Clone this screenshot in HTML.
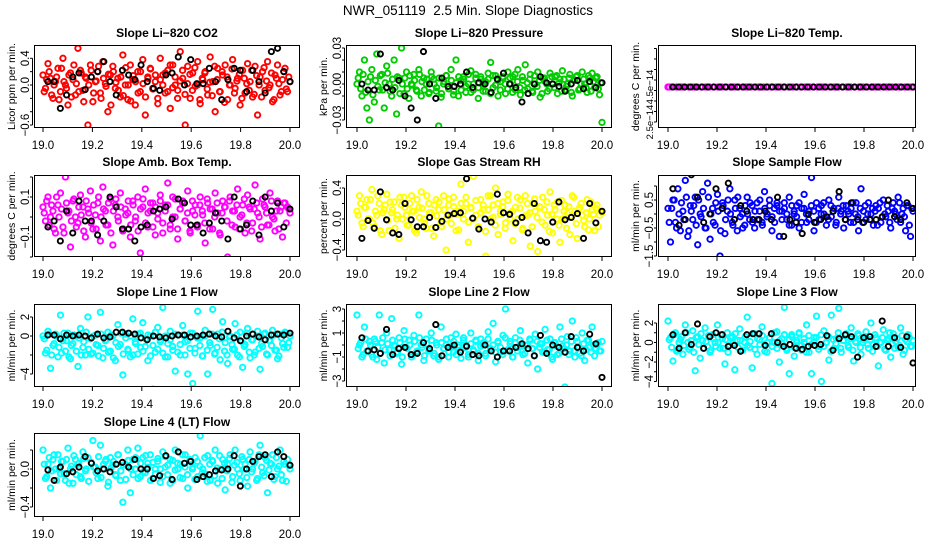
<!DOCTYPE html>
<html><head><meta charset="utf-8"><style>
html,body{margin:0;padding:0;background:#fff;}
svg{display:block;font-family:"Liberation Sans",Arial,sans-serif;}
</style></head>
<body>
<svg id="chart" width="936" height="540" viewBox="0 0 936 540" xmlns="http://www.w3.org/2000/svg">
<rect width="936" height="540" fill="#fff"/>
<text x="468" y="15" text-anchor="middle" font-size="13.5">NWR_051119&#160; 2.5 Min. Slope Diagnostics</text>
</svg>
<script>
const xTicks = [19.0, 19.2, 19.4, 19.6, 19.8, 20.0];
const xTickLabels = ["19.0","19.2","19.4","19.6","19.8","20.0"];

const co2Vals = [0.15,-0.05,0.32,0.1,-0.2,0.05,0.25,-0.1,0.4,0.0,-0.3,0.18,0.08,-0.15,0.55,0.22,-0.08,0.12,-0.6,0.3,-0.25,0.05,0.2,-0.12,0.35,0.02,-0.4,0.15,0.28,-0.05,0.1,-0.18,0.45,0.0,-0.22,0.3,0.08,-0.3,0.2,-0.1,0.38,-0.45,0.12,0.25,-0.05,0.05,-0.2,0.4,0.15,-0.12,0.22,-0.35,0.3,0.0,-0.08,0.5,0.1,-0.6,0.28,-0.2,0.18,-0.02,0.35,-0.28,0.08,0.2,-0.15,0.42,0.05,-0.4,0.25,-0.1,0.15,0.3,-0.22,0.0,0.38,-0.05,0.1,-0.3,0.22,-0.12,0.32,0.05,-0.18,0.28,-0.45,0.12,0.2,-0.08,0.35,0.0,-0.25,0.15,0.3,-0.15,0.08,0.25,-0.1,0.05];
const co2Vals2 = [-0.1,0.08,0.2,-0.15,0.0,0.12,-0.22,0.25,0.05,-0.05,0.15,-0.18,0.3,0.02,-0.1,0.18,-0.25,0.1,0.0,0.22,-0.12,0.06,0.28,-0.2,0.1,-0.02,0.16,-0.3,0.2,0.04,-0.08,0.12,-0.16,0.26,0.0,-0.24,0.14,0.05,-0.12,0.2,0.02,-0.18,0.1,0.24,-0.06,0.15,-0.28,0.08,0.0,0.18,-0.1,0.3,-0.04,0.12,-0.2,0.06,0.22,-0.14,0.02,0.16,-0.08,0.26,0.0,-0.22,0.1,0.18,-0.06,0.04,-0.16,0.28,0.08,-0.1,0.2,-0.26,0.12,0.0,0.24,-0.12,0.06,0.16,-0.2,0.1,0.02,-0.08,0.22,-0.14,0.14,0.0,-0.18,0.26,0.06,-0.04,0.18,-0.22,0.1,0.02,-0.1,0.2,-0.06,0.12];
const co2Black = [0.05,0.05,-0.35,-0.15,0.12,0.18,-0.07,0.12,0.2,0.35,0.05,-0.15,0.22,0.15,0.08,0.3,0.05,-0.05,-0.08,0.15,0.18,0.42,0.0,0.38,0.02,0.02,0.25,0.05,-0.22,0.08,0.25,0.22,-0.1,0.22,0.05,-0.12,0.5,0.55,0.2,0.05];

const presVals = [0.0,0.01,-0.01,0.02,-0.02,-0.03,0.012,-0.015,0.025,-0.005,0.008,-0.02,0.015,0.0,-0.01,0.02,-0.025,0.005,0.03,-0.008,0.01,-0.012,0.0,0.008,-0.005,0.012,-0.01,0.005,0.0,-0.008,0.01,0.004,-0.006,-0.035,-0.011,0.0,0.007,-0.004,0.012,-0.009,0.02,-0.01,0.003,0.006,-0.007,0.0,0.011,-0.005,0.008,-0.012,0.004,0.0,-0.006,0.009,0.018,-0.003,0.007,-0.01,0.002,0.005,-0.008,0.01,0.0,0.006,-0.005,0.012,-0.009,0.003,0.016,-0.004,0.008,-0.007,0.0,0.01,-0.011,0.005,0.002,-0.006,0.009,0.0,0.006,-0.008,0.004,0.011,-0.005,0.0,0.008,-0.01,0.003,0.007,-0.004,0.01,0.0,-0.007,0.005,0.009,-0.003,0.006,-0.009,-0.032];
const presVals2 = [0.005,-0.004,0.008,-0.007,0.002,0.006,-0.009,0.003,-0.002,0.007,-0.005,0.001,0.009,-0.006,0.004,-0.003,0.006,-0.008,0.0,0.005,-0.004,0.007,-0.001,0.003,-0.006,0.008,0.002,-0.005,0.004,-0.007,0.006,0.0,-0.003,0.005,-0.008,0.002,0.007,-0.004,0.003,-0.006,0.001,0.006,-0.005,0.004,-0.002,0.008,-0.007,0.0,0.005,-0.003,0.006,-0.006,0.002,0.004,-0.008,0.007,-0.001,0.003,-0.005,0.006,0.0,-0.004,0.005,-0.007,0.008,0.002,-0.003,0.006,-0.005,0.001,0.004,-0.006,0.007,-0.002,0.003,-0.008,0.005,0.0,-0.004,0.006,-0.003,0.007,0.001,-0.006,0.004,-0.002,0.005,-0.007,0.003,0.006,-0.005,0.0,0.004,-0.003,0.007,-0.006,0.002,0.005,-0.004,0.001];
const presBlack = [0.0,-0.005,-0.005,0.025,-0.003,-0.005,0.003,-0.01,-0.02,-0.03,0.027,0.0,-0.012,0.005,-0.002,-0.002,0.0,0.01,-0.003,0.001,0.0,-0.007,0.004,0.009,0.0,-0.003,-0.015,-0.008,0.0,0.006,0.001,0.0,-0.002,-0.006,0.0,0.003,-0.004,0.002,-0.003,0.001];

const tempVals = [4.5e-14,4.5e-14,4.5e-14,4.5e-14,4.5e-14,4.5e-14,4.5e-14,4.5e-14,4.5e-14,4.5e-14,4.5e-14,4.5e-14,4.5e-14,4.5e-14,4.5e-14,4.5e-14,4.5e-14,4.5e-14,4.5e-14,4.5e-14,4.5e-14,4.5e-14,4.5e-14,4.5e-14,4.5e-14,4.5e-14,4.5e-14,4.5e-14,4.5e-14,4.5e-14,4.5e-14,4.5e-14,4.5e-14,4.5e-14,4.5e-14,4.5e-14,4.5e-14,4.5e-14,4.5e-14,4.5e-14,4.5e-14,4.5e-14,4.5e-14,4.5e-14,4.5e-14,4.5e-14,4.5e-14,4.5e-14,4.5e-14,4.5e-14,4.5e-14,4.5e-14,4.5e-14,4.5e-14,4.5e-14,4.5e-14,4.5e-14,4.5e-14,4.5e-14,4.5e-14];
const tempVals2 = [4.5e-14,4.5e-14,4.5e-14,4.5e-14,4.5e-14,4.5e-14,4.5e-14,4.5e-14,4.5e-14,4.5e-14,4.5e-14,4.5e-14,4.5e-14,4.5e-14,4.5e-14,4.5e-14,4.5e-14,4.5e-14,4.5e-14,4.5e-14];
const tempBlack = [4.5e-14,4.5e-14,4.5e-14,4.5e-14,4.5e-14,4.5e-14,4.5e-14,4.5e-14,4.5e-14,4.5e-14,4.5e-14,4.5e-14,4.5e-14,4.5e-14,4.5e-14,4.5e-14,4.5e-14,4.5e-14,4.5e-14,4.5e-14,4.5e-14,4.5e-14,4.5e-14,4.5e-14,4.5e-14,4.5e-14,4.5e-14,4.5e-14,4.5e-14,4.5e-14,4.5e-14,4.5e-14,4.5e-14,4.5e-14,4.5e-14,4.5e-14,4.5e-14,4.5e-14,4.5e-14,4.5e-14,4.5e-14,4.5e-14];

const ambVals = [0.05,-0.02,0.1,0.0,0.03,-0.08,0.06,0.12,-0.05,0.2,0.02,-0.15,0.08,0.0,-0.03,0.11,0.05,-0.1,0.04,0.13,-0.06,0.01,0.07,-0.12,0.15,0.03,-0.04,0.09,-0.14,0.06,0.0,0.12,-0.07,0.04,0.02,-0.1,0.08,-0.02,0.1,-0.18,0.05,0.14,-0.05,0.03,0.07,-0.09,0.02,0.11,-0.03,0.06,0.17,-0.06,0.0,0.09,-0.11,0.04,0.08,-0.02,0.13,-0.08,0.03,0.06,-0.04,0.1,0.01,-0.13,0.07,0.04,-0.06,0.12,0.02,-0.09,0.08,0.05,-0.2,0.1,0.03,-0.05,0.14,0.0,0.06,-0.08,0.11,0.04,-0.03,0.16,0.02,-0.11,0.09,0.05,-0.04,0.12,0.0,-0.07,0.08,0.03,-0.1,0.07,0.05,0.02];
const ambVals2 = [0.02,0.08,-0.04,0.06,-0.06,0.1,0.0,0.04,-0.08,0.07,0.03,-0.02,0.09,-0.05,0.05,0.01,-0.07,0.08,0.02,-0.03,0.06,-0.06,0.1,0.0,0.04,-0.04,0.07,-0.08,0.03,0.09,-0.02,0.05,-0.06,0.01,0.08,-0.04,0.06,0.0,-0.07,0.04,0.09,-0.03,0.02,0.07,-0.05,0.05,-0.01,0.08,-0.08,0.03,0.06,-0.04,0.1,0.0,-0.06,0.04,0.07,-0.02,0.02,-0.07,0.08,0.01,-0.05,0.06,0.03,-0.03,0.09,-0.06,0.04,0.0,0.07,-0.08,0.02,0.05,-0.02,0.08,-0.04,0.03,0.06,-0.06,0.01,0.09,-0.03,0.05,-0.07,0.04,0.07,0.0,-0.05,0.06,0.02,-0.04,0.08,-0.01,0.03,-0.06,0.05,0.07,-0.03,0.04];
const ambBlack = [-0.05,-0.02,-0.12,0.03,-0.08,0.08,-0.02,-0.02,-0.09,-0.02,0.1,0.05,-0.06,-0.06,-0.12,-0.05,-0.04,0.03,0.04,0.05,-0.01,0.09,0.07,-0.04,-0.04,-0.08,-0.03,0.02,-0.02,-0.11,0.1,-0.06,-0.04,0.08,-0.09,0.1,0.03,0.07,-0.05,0.04];

const rhVals = [0.1,0.3,-0.05,0.15,0.25,0.0,0.38,-0.1,0.05,0.2,-0.2,0.12,0.32,-0.15,0.08,0.22,0.0,-0.25,0.18,0.28,0.05,-0.08,0.3,0.1,-0.18,0.15,0.35,0.0,-0.12,0.2,0.08,-0.22,0.25,0.12,-0.05,0.3,-0.4,0.18,0.05,0.28,-0.15,0.1,0.45,0.0,0.2,-0.3,0.15,0.55,0.05,-0.1,0.25,0.12,-0.48,0.3,0.0,0.18,0.4,-0.2,0.1,0.22,-0.05,0.32,0.08,-0.28,0.15,0.0,0.25,-0.12,0.3,0.05,-0.35,0.2,0.1,-0.42,0.15,0.28,-0.08,0.05,0.35,-0.18,0.12,0.22,-0.3,0.0,0.18,0.08,-0.2,0.3,0.1,-0.25,0.15,0.05,-0.1,0.25,0.0,0.12,-0.15,0.18,0.05,0.08];
const rhVals2 = [0.05,0.2,-0.1,0.15,0.0,0.25,-0.05,0.1,0.3,-0.15,0.08,0.18,-0.02,0.22,0.12,-0.12,0.05,0.28,0.0,0.15,-0.08,0.2,0.1,-0.15,0.25,0.02,0.14,-0.05,0.3,0.08,-0.12,0.18,0.04,0.22,-0.1,0.12,0.0,0.26,-0.06,0.16,0.06,-0.14,0.2,0.1,0.28,-0.04,0.14,0.0,0.24,-0.1,0.08,0.18,-0.16,0.12,0.3,0.02,-0.08,0.2,0.06,0.16,-0.12,0.24,0.0,0.1,-0.06,0.28,0.14,-0.14,0.04,0.2,0.08,-0.1,0.26,0.02,0.16,-0.04,0.12,0.22,-0.16,0.06,0.18,0.0,-0.08,0.24,0.1,-0.12,0.16,0.04,0.28,-0.06,0.12,0.2,-0.02,0.08,-0.14,0.22,0.06,0.14,-0.1,0.1];
const rhBlack = [-0.25,-0.02,-0.12,0.35,-0.01,-0.18,-0.2,0.2,-0.01,-0.1,-0.1,0.02,-0.11,-0.03,0.05,0.07,0.08,0.52,0.01,-0.13,0.0,-0.04,0.32,0.08,0.06,-0.05,0.02,-0.18,0.2,-0.28,-0.3,-0.04,0.22,-0.01,0.02,0.07,-0.25,0.2,-0.05,0.1];

const sampVals = [0.2,-1.0,0.5,-0.3,0.9,-0.6,0.1,1.2,-0.8,0.3,-0.2,0.6,-1.1,0.0,0.8,-0.5,1.1,-0.9,0.2,-0.4,0.7,-1.5,0.4,-0.7,0.1,0.9,-0.3,0.5,-0.6,0.2,0.0,-0.4,0.6,-0.2,0.3,-0.5,0.4,0.1,-0.3,0.8,-0.1,0.5,-0.6,0.2,0.3,-0.8,0.1,0.4,-0.2,0.6,-0.4,0.0,0.3,-0.5,0.2,0.7,-0.3,0.1,1.3,-0.6,0.4,-0.2,0.3,0.0,-0.4,0.5,-0.1,0.2,-0.3,0.6,0.1,-0.5,0.3,0.0,0.2,-0.3,0.4,-0.6,0.9,0.1,-0.2,0.4,0.0,-0.4,0.3,0.2,-0.3,0.5,-0.1,0.1,-0.5,0.4,0.0,0.6,-0.3,0.2,-0.6,0.3,-0.8,0.1];
const sampVals2 = [-0.3,0.2,0.5,-0.5,0.0,0.4,-0.2,0.6,-0.6,0.1,0.3,-0.4,0.5,-0.1,0.2,-0.5,0.6,0.0,-0.3,0.4,0.1,-0.6,0.3,-0.2,0.5,0.0,-0.4,0.2,0.6,-0.1,-0.5,0.3,0.0,0.4,-0.3,0.1,-0.2,0.5,-0.4,0.2,0.0,0.3,-0.1,-0.3,0.4,0.1,-0.2,0.2,0.0,-0.4,0.3,0.1,-0.1,0.4,-0.3,0.2,0.0,-0.2,0.3,0.1,-0.3,0.2,0.0,0.4,-0.1,-0.2,0.3,0.1,-0.4,0.2,0.0,0.3,-0.2,0.1,-0.3,0.4,0.0,-0.1,0.2,-0.3,0.3,0.0,-0.2,0.2,0.1,-0.4,0.4,-0.1,0.0,0.3,-0.3,0.2,0.1,-0.2,0.4,0.0,-0.1,0.3,-0.4,0.2];
const sampBlack = [0.9,-0.4,-0.2,1.4,0.6,-0.3,0.0,0.9,0.2,1.1,-0.2,0.3,0.1,-0.2,-0.2,0.1,-0.2,0.6,-0.8,-0.2,-0.3,-0.7,0.0,-0.3,-0.2,-0.1,0.1,0.8,-0.2,0.4,-0.2,-0.3,-0.2,-0.2,-0.1,0.5,-0.1,-0.2,0.4,0.2];

const l1Vals = [0.0,-1.8,0.5,-3.4,-1.0,0.2,-2.2,2.2,-0.5,-1.6,0.3,-2.4,-0.8,0.0,-3.2,0.8,-1.2,-2.0,2.0,-0.3,-1.8,0.1,-1.0,2.5,-2.3,-0.5,0.4,-1.6,0.0,-2.6,1.2,-0.9,-4.1,0.2,-1.4,-2.2,1.8,-0.6,-1.9,0.3,1.4,-1.1,-2.6,0.0,-5.6,-1.7,0.9,-0.4,3.0,-2.2,-0.8,0.5,-1.5,-3.7,0.1,-2.0,1.1,-0.6,-4.0,0.3,-5.0,-1.3,2.6,-0.2,-2.1,0.6,-4.0,-1.0,2.8,-1.8,0.2,-2.5,1.5,-0.7,-2.9,0.0,-1.4,1.3,-2.0,0.4,-3.3,-0.9,0.8,-2.3,-0.4,-1.7,0.5,-3.5,-1.1,0.3,-2.0,-0.5,0.6,-1.5,-2.4,0.2,-0.8,0.4,-1.2,0.0];
const l1Vals2 = [-0.3,-1.5,0.2,-2.0,-0.8,0.0,-1.2,-1.8,0.3,-0.5,-2.2,-1.0,0.1,-1.6,-0.2,-2.0,-0.6,0.4,-1.4,-1.9,0.0,-0.9,-2.1,0.2,-1.3,-0.4,-1.7,0.1,-2.3,-0.7,-1.1,0.3,-1.9,-0.2,-1.5,0.0,-2.0,-0.8,0.2,-1.2,-1.6,-0.3,0.1,-2.1,-1.0,0.4,-1.4,-0.6,-1.8,0.0,-2.2,-0.4,-1.1,0.2,-1.7,-0.9,0.1,-2.0,-0.5,-1.3,0.3,-1.8,-0.2,-1.0,-2.1,0.0,-1.5,-0.7,0.2,-1.9,-1.2,-0.3,0.4,-1.6,-2.0,-0.1,-0.9,-1.4,0.1,-2.2,-0.6,-1.1,0.3,-1.7,-0.4,-2.0,0.0,-1.3,-0.8,0.2,-1.9,-0.5,-1.0,0.1,-1.5,-2.1,-0.2,-1.2,0.3,-0.7];
const l1Black = [0.1,0.1,-0.3,0.1,0.0,0.1,0.0,-0.2,0.2,-0.2,-0.1,0.4,0.4,0.3,0.2,-0.2,-0.4,0.0,-0.1,-0.2,0.0,0.1,0.1,-0.1,0.0,0.1,0.2,0.0,-0.1,0.5,-0.2,-0.5,0.0,0.2,-0.1,-0.4,0.1,0.2,0.1,0.3];

const l2Vals = [2.5,0.0,-1.0,1.5,-0.5,0.3,-0.8,0.5,-1.2,2.5,0.2,-1.5,1.0,-0.4,2.2,0.0,-0.7,0.6,-1.6,1.2,-0.2,0.4,-1.0,0.8,-0.6,2.5,0.0,-1.3,0.5,-0.5,1.0,-0.9,0.2,-1.2,1.5,-0.3,0.0,-1.0,0.6,-0.6,0.9,-0.2,-1.1,0.4,0.0,-0.8,1.0,-0.4,0.3,-1.3,0.5,0.0,-0.7,1.1,-0.3,1.8,-1.4,0.2,-0.6,0.8,3.0,-0.5,0.3,-1.0,0.6,-0.2,1.2,-0.8,0.0,-1.5,0.4,-0.3,0.9,-2.0,0.1,-0.6,1.3,-0.4,0.5,-1.2,0.2,-0.8,1.5,-0.1,-3.5,0.7,-0.5,2.0,-1.0,0.3,-0.7,1.0,-1.3,0.4,-0.2,1.5,-0.9,0.0,-0.5,0.3];
const l2Vals2 = [-0.3,0.2,-0.8,0.5,-0.5,0.0,-1.0,0.3,-0.2,-0.7,0.6,-0.4,0.1,-0.9,0.4,-0.1,-0.6,0.2,-1.0,0.5,-0.3,0.0,-0.8,0.3,-0.5,0.6,-0.2,-0.9,0.1,-0.4,0.4,-0.7,0.0,-1.0,0.2,-0.3,0.5,-0.6,-0.1,0.3,-0.8,0.0,-0.4,0.6,-0.2,-1.0,0.1,-0.5,0.4,-0.7,-0.1,0.2,-0.9,0.5,-0.3,0.0,-0.6,0.3,-0.2,-0.8,0.6,-0.4,0.1,-1.0,0.2,-0.5,0.4,-0.1,-0.7,0.0,0.5,-0.3,-0.9,0.3,-0.2,0.1,-0.6,0.4,-0.4,-1.0,0.2,-0.1,-0.7,0.5,-0.3,0.0,-0.8,0.3,-0.5,0.6,-0.2,-0.9,0.1,-0.4,0.4,-0.6,0.0,-0.3,0.2,-0.5];
const l2Black = [0.6,-0.5,-0.4,-0.7,1.3,-0.8,-0.3,-0.2,-0.8,-0.7,0.2,-0.3,1.7,-0.9,-0.2,0.0,-0.6,-0.1,-0.8,-0.9,0.0,-0.5,-1.0,-0.5,-0.5,-0.2,0.1,-0.3,-0.9,0.8,-0.7,0.0,-0.2,-0.6,0.7,-0.2,-0.5,0.9,0.1,-2.7];

const l3Vals = [2.2,0.5,-1.9,1.0,-0.8,0.3,-1.2,1.8,0.0,-0.5,1.2,-2.9,0.6,-1.6,0.2,1.5,-0.4,-1.0,0.8,0.0,1.8,-0.6,0.4,-2.2,1.0,-0.3,0.6,-2.8,0.2,1.4,-0.8,0.0,2.6,-0.5,-2.6,0.9,-1.2,0.3,1.6,-0.2,-1.0,0.5,-4.2,0.0,1.1,-2.0,0.4,3.6,-0.6,-3.2,0.8,-1.4,0.2,1.0,-0.8,0.0,1.8,-1.0,-3.2,0.5,2.7,-0.4,-4.0,1.2,0.0,-1.8,2.8,-0.6,0.4,3.5,-1.0,0.2,0.9,-0.5,1.5,-1.9,0.0,0.7,-1.2,0.3,1.1,-0.6,2.0,-0.2,0.5,-2.4,0.0,1.3,-0.8,0.4,-1.5,0.9,0.1,-0.5,1.5,-1.2,0.3,0.8,-0.4,0.2];
const l3Vals2 = [0.3,-0.5,0.8,-0.9,0.0,0.6,-0.3,1.0,-0.7,0.2,-1.0,0.5,-0.2,0.9,-0.6,0.1,0.7,-0.8,0.4,-0.4,0.0,0.8,-0.6,0.3,-1.0,0.5,-0.1,0.9,-0.5,0.2,-0.8,0.6,-0.3,0.1,0.9,-0.7,0.4,-0.2,0.7,-0.9,0.0,0.5,-0.4,1.0,-0.6,0.2,-0.1,0.8,-0.8,0.3,0.6,-0.5,0.0,0.9,-0.3,0.4,-1.0,0.7,-0.2,0.1,0.5,-0.7,0.8,-0.4,0.0,0.6,-0.9,0.3,-0.1,1.0,-0.6,0.2,0.7,-0.3,0.4,-0.8,0.1,0.9,-0.5,0.0,0.6,-0.2,0.3,-0.9,0.8,-0.4,0.0,0.5,-0.7,0.2,1.0,-0.1,-0.6,0.4,-0.3,0.7,-0.8,0.1,0.5,-0.4];
const l3Black = [0.8,-0.6,1.0,-0.2,1.9,-0.6,0.6,1.0,0.8,-0.4,-0.3,-0.9,0.8,0.9,0.9,-0.3,0.9,0.0,-0.4,-0.2,-0.6,-0.7,-0.4,-0.3,-0.2,0.7,-0.8,0.4,0.8,0.6,-1.5,0.5,0.6,-0.4,2.2,-0.4,0.5,-0.5,0.6,-2.1];

const l4Vals = [0.2,-0.1,0.05,-0.2,0.1,0.0,0.15,-0.05,0.08,-0.12,0.22,0.0,-0.15,0.1,0.05,-0.08,0.18,-0.02,0.12,-0.55,0.3,0.02,-0.1,0.25,0.0,0.08,-0.18,0.12,0.04,-0.06,0.15,-0.12,-0.35,0.05,0.2,-0.25,0.1,0.0,0.22,-0.08,0.12,-0.04,0.06,0.15,-0.1,0.0,0.08,-0.14,0.18,0.02,-0.06,0.1,-0.12,0.2,0.0,0.05,-0.1,0.15,-0.2,0.08,0.02,0.12,-0.08,0.35,0.0,-0.05,0.14,-0.12,0.08,0.2,-0.15,0.0,0.1,-0.22,0.05,0.15,-0.08,0.2,0.0,-0.12,0.1,0.05,-0.18,0.18,0.0,0.08,-0.1,0.25,-0.04,0.12,-0.25,0.06,0.15,-0.08,0.0,0.2,-0.12,0.05,0.1,0.0];
const l4Vals2 = [0.05,-0.08,0.12,-0.02,0.15,-0.12,0.0,0.08,-0.05,0.1,-0.15,0.03,0.14,-0.06,0.06,-0.1,0.11,0.0,-0.13,0.07,0.02,-0.04,0.13,-0.09,0.05,0.1,-0.14,0.01,0.08,-0.07,0.15,-0.02,0.04,-0.11,0.09,0.0,-0.06,0.12,-0.1,0.06,-0.03,0.14,0.02,-0.12,0.07,-0.05,0.11,0.0,-0.08,0.13,0.04,-0.15,0.09,-0.01,0.06,-0.09,0.15,0.02,-0.06,0.1,0.0,-0.11,0.08,0.03,-0.04,0.12,-0.13,0.05,0.09,-0.07,0.01,0.14,-0.1,0.06,-0.02,0.11,-0.14,0.04,0.07,-0.05,0.13,0.0,-0.09,0.1,-0.03,0.06,-0.12,0.15,0.02,-0.07,0.09,-0.01,0.05,-0.11,0.12,0.03,-0.06,0.08,-0.13,0.04];
const l4Black = [-0.01,-0.12,0.02,-0.05,-0.03,0.02,0.13,0.06,-0.02,0.0,-0.03,0.05,0.07,0.02,0.1,0.0,0.0,-0.1,-0.07,0.14,-0.11,0.18,0.06,0.08,-0.11,-0.08,-0.06,-0.02,-0.01,0.0,0.14,-0.18,0.0,0.08,0.13,0.15,-0.08,0.18,0.13,0.04];

const NS = "http://www.w3.org/2000/svg";
const svg = document.getElementById("chart");
function mk(tag, attrs, parent, txt) {
  const e = document.createElementNS(NS, tag);
  for (const k in attrs) e.setAttribute(k, attrs[k]);
  if (txt !== undefined) e.textContent = txt;
  (parent || svg).appendChild(e);
  return e;
}
const cols = [{bx0:34,bx1:300,xa:43,xb:290},{bx0:346,bx1:612,xa:357,xb:602},{bx0:658,bx1:916,xa:668,xb:913}];
const rows = [{by0:45,by1:128,title:33},{by0:175,by1:257,title:162},{by0:304,by1:387,title:292},{by0:433,by1:517,title:422}];

const panels = [
 {key:"co2",title:"Slope Li\u2212820 CO2",ylab:"Licor ppm per min.",c:0,r:0,color:"#ff0000",vals:co2Vals,vals2:co2Vals2,blk:co2Black,v0:0,p0:85,v1:0.4,p1:58.3,ticks:[-0.6,-0.4,-0.2,0,0.2,0.4],labels:[[0.4,"0.4"],[0,"0.0"],[-0.6,"\u22120.6"]]},
 {key:"pressure",title:"Slope Li\u2212820 Pressure",ylab:"kPa per min.",c:1,r:0,color:"#00cc00",vals:presVals,vals2:presVals2,blk:presBlack,v0:0,p0:84,v1:0.03,p1:48,ticks:[-0.03,-0.02,-0.01,0,0.01,0.02,0.03],labels:[[0.03,"0.03"],[0,"0.00"],[-0.03,"\u22120.03"]]},
 {key:"temp",title:"Slope Li\u2212820 Temp.",ylab:"degrees C per min.",c:2,r:0,color:"#ff00ff",vals:tempVals,vals2:tempVals2,blk:tempBlack,v0:2.5e-14,p0:122,v1:4.5e-14,p1:87,lsize:9.5,ticks:[2.5e-14,3.1e-14,3.7e-14,4.3e-14,4.9e-14,5.5e-14,6.1e-14,6.7e-14],labels:[[4.5e-14,"4.5e\u221214"],[2.5e-14,"2.5e\u221214"]]},
 {key:"ambtemp",title:"Slope Amb. Box Temp.",ylab:"degrees C per min.",c:0,r:1,color:"#ff00ff",vals:ambVals,vals2:ambVals2,blk:ambBlack,v0:0,p0:217,v1:0.1,p1:197,ticks:[-0.2,-0.1,0,0.1,0.2],labels:[[0.1,"0.1"],[-0.1,"\u22120.1"]]},
 {key:"rh",title:"Slope Gas Stream RH",ylab:"percent per min.",c:1,r:1,color:"#ffff00",vals:rhVals,vals2:rhVals2,blk:rhBlack,v0:0,p0:219,v1:0.4,p1:188,ticks:[-0.4,-0.2,0,0.2,0.4],labels:[[0.4,"0.4"],[0,"0.0"],[-0.4,"\u22120.4"]]},
 {key:"sampleflow",title:"Slope Sample Flow",ylab:"ml/min per min.",c:2,r:1,color:"#0000ff",vals:sampVals,vals2:sampVals2,blk:sampBlack,v0:0,p0:214,v1:0.5,p1:200,ticks:[-1.5,-1,-0.5,0,0.5,1],labels:[[0.5,"0.5"],[-0.5,"\u22120.5"],[-1.5,"\u22121.5"]]},
 {key:"line1",title:"Slope Line 1 Flow",ylab:"ml/min per min.",c:0,r:2,color:"#00ffff",vals:l1Vals,vals2:l1Vals2,blk:l1Black,v0:0,p0:336,v1:2,p1:317,ticks:[-4,-2,0,2],labels:[[2,"2"],[0,"0"],[-4,"\u22124"]]},
 {key:"line2",title:"Slope Line 2 Flow",ylab:"ml/min per min.",c:1,r:2,color:"#00ffff",vals:l2Vals,vals2:l2Vals2,blk:l2Black,v0:0,p0:345,v1:1,p1:333,ticks:[-3,-2,-1,0,1,2,3],labels:[[3,"3"],[1,"1"],[-1,"\u22121"],[-3,"\u22123"]]},
 {key:"line3",title:"Slope Line 3 Flow",ylab:"ml/min per min.",c:2,r:2,color:"#00ffff",vals:l3Vals,vals2:l3Vals2,blk:l3Black,v0:0,p0:342.5,v1:2,p1:323,ticks:[-4,-3,-2,-1,0,1,2],labels:[[2,"2"],[0,"0"],[-2,"\u22122"],[-4,"\u22124"]]},
 {key:"line4",title:"Slope Line 4 (LT) Flow",ylab:"ml/min per min.",c:0,r:3,color:"#00ffff",vals:l4Vals,vals2:l4Vals2,blk:l4Black,v0:0,p0:469,v1:-0.4,p1:507,ticks:[-0.4,-0.2,0,0.2],labels:[[0,"0.0"],[-0.4,"\u22120.4"]]}
];

panels.forEach(p => {
  const C = cols[p.c], R = rows[p.r];
  const xs = v => C.xa + (v - 19) * (C.xb - C.xa);
  const ys = v => p.p0 + (v - p.v0) / (p.v1 - p.v0) * (p.p1 - p.p0);
  const g = mk("g", {});
  
  
  const t = mk("text", {x:(C.bx0+C.bx1)/2, y:R.title+4, "text-anchor":"middle", "font-size":"12", "font-weight":"bold"}, g, p.title);
  
  
  const clipId = "clip-" + p.key;
  const cp = mk("clipPath", {id:clipId}, g);
  mk("rect", {x:C.bx0, y:R.by0, width:C.bx1-C.bx0, height:R.by1-R.by0}, cp);
  const pts = mk("g", {"clip-path":"url(#"+clipId+")", fill:"none", "stroke-width":"1.9"}, g);
  
  
  const n = p.vals.length;
  p.vals.forEach((v, i) => {
    const c = mk("circle", {cx:xs(19 + i/(n-1)), cy:ys(v), r:2.7, stroke:p.color}, pts);
    
    
  });
  const n2 = p.vals2.length;
  p.vals2.forEach((v, i) => {
    const c = mk("circle", {cx:xs(19.005 + i*0.99/(n2-1)), cy:ys(v), r:2.7, stroke:p.color}, pts);
    
    
  });
  const m = p.blk.length;
  p.blk.forEach((v, i) => {
    const c = mk("circle", {cx:xs(19.02 + i*0.98/(m-1)), cy:ys(v), r:2.6, stroke:"#000"}, pts);
    
    
  });
  const box = mk("rect", {x:C.bx0+0.5, y:R.by0+0.5, width:C.bx1-C.bx0-1, height:R.by1-R.by0-1, fill:"none", stroke:"#000", "stroke-width":"1"}, g);
  
  
  const xa = mk("g", {stroke:"#000", "stroke-width":"1"}, g);
  
  
  xTicks.forEach((v, i) => {
    mk("line", {x1:xs(v), x2:xs(v), y1:R.by1, y2:R.by1+4}, xa);
    const tl = mk("text", {x:xs(v), y:R.by1+21, "text-anchor":"middle", "font-size":"11.5", stroke:"none", fill:"#000"}, xa, xTickLabels[i]);
    
    
  });
  const ya = mk("g", {stroke:"#000", "stroke-width":"1"}, g);
  
  
  const tp = p.ticks.map(ys);
  mk("line", {x1:C.bx0-1.5, x2:C.bx0-1.5, y1:Math.min(...tp), y2:Math.max(...tp)}, ya);
  tp.forEach(y => mk("line", {x1:C.bx0-4, x2:C.bx0-1.5, y1:y, y2:y}, ya));
  const tlx = C.bx0 - 5;
  const ls = p.lsize || 11.5;
  p.labels.forEach(([v, s]) => {
    const y = ys(v);
    const tl = mk("text", {x:tlx, y:y, "text-anchor":"middle", "font-size":ls, stroke:"none", fill:"#000", transform:"rotate(-90 "+tlx+" "+y+")"}, ya, s);
    
    
  });
  const cy = (R.by0 + R.by1) / 2;
  const ytx = C.bx0 - 19;
  const yt = mk("text", {x:ytx, y:cy, "text-anchor":"middle", "font-size":"10.5", transform:"rotate(-90 "+ytx+" "+cy+")"}, g, p.ylab);
  
  
});
</script>
</body></html>
